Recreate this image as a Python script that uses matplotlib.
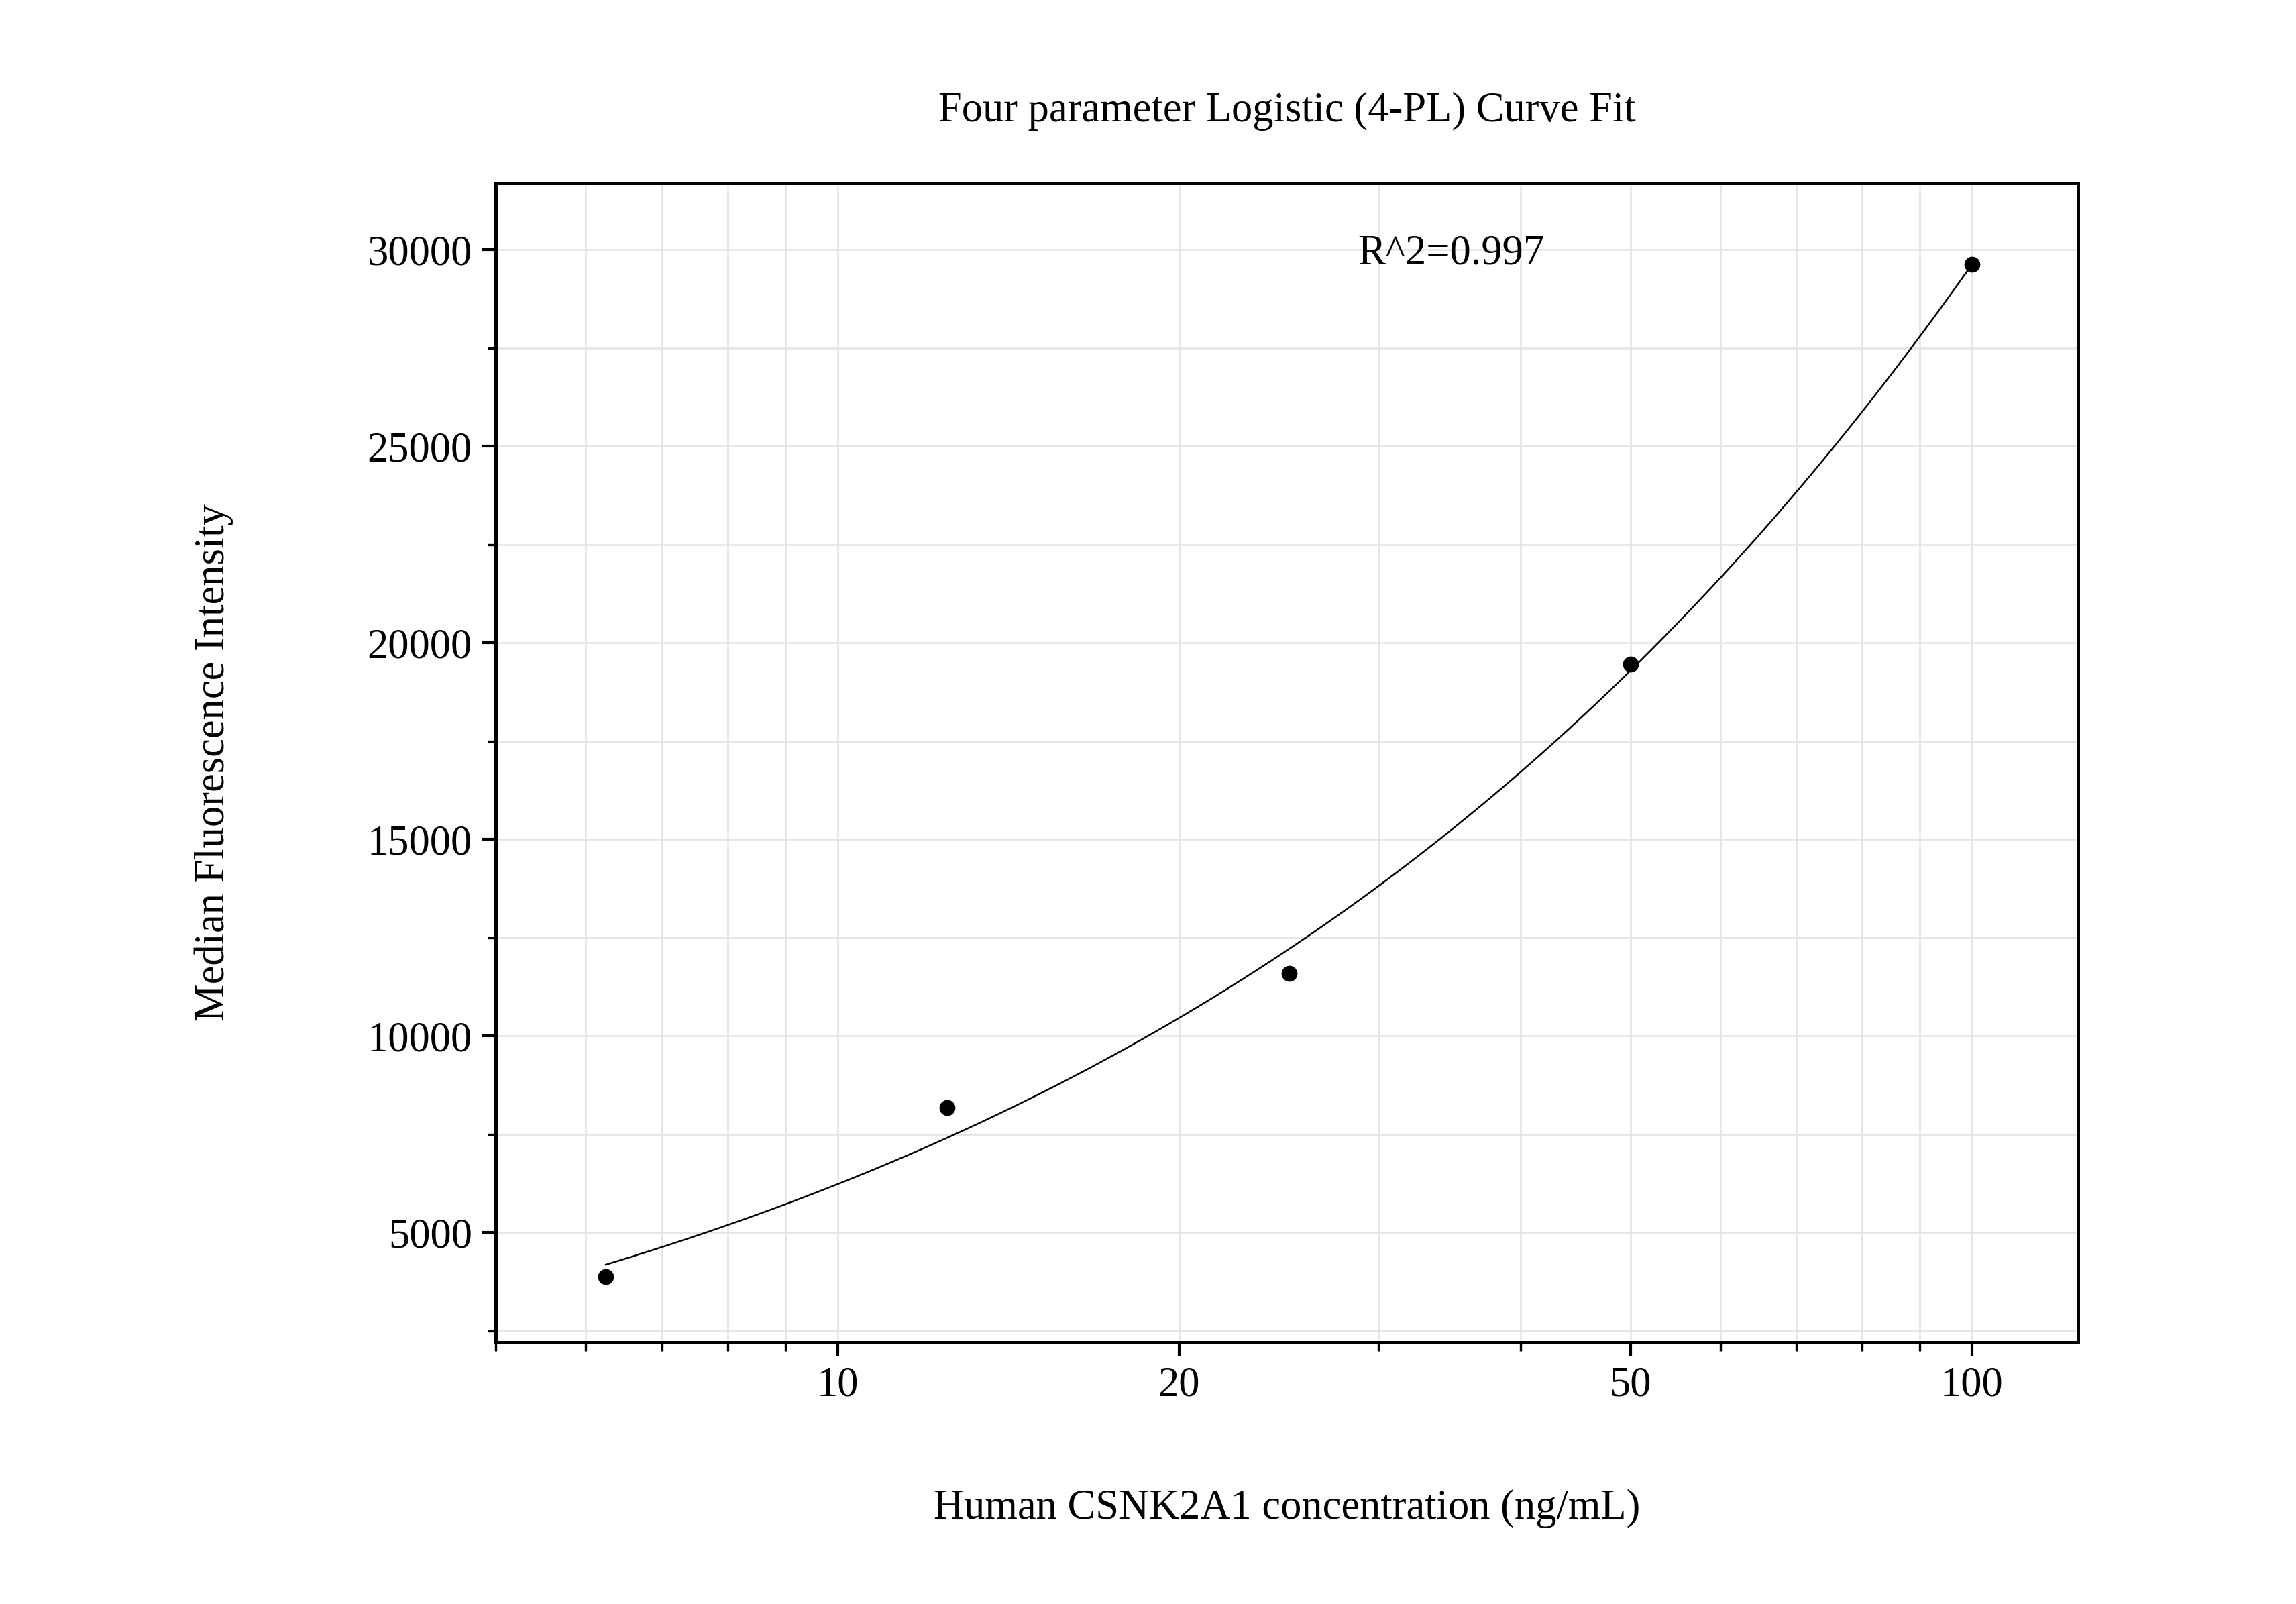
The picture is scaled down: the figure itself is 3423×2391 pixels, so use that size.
import numpy as np
import matplotlib
matplotlib.use("Agg")
import matplotlib.pyplot as plt
from matplotlib.ticker import MultipleLocator, LogLocator, FixedLocator, NullFormatter

conc = [6.25, 12.5, 25, 50, 100]
mfi = [3880, 8170, 11590, 19450, 29630]
xticks = [10, 20, 50, 100]
xlabels = ["10", "20", "50", "100"]
yticks = [5000, 10000, 15000, 20000, 25000, 30000]

x = np.array(conc, float); y = np.array(mfi, float)
best = None
for b in np.linspace(0.3, 3, 120):
    for c in np.logspace(0, 4, 200):
        g = 1 / (1 + (x / c) ** b)
        A = np.vstack([g, 1 - g]).T
        p, *_ = np.linalg.lstsq(A, y, rcond=None)
        r = np.sum((A @ p - y) ** 2)
        if best is None or r < best[0]:
            best = (r, b, c, p)
_, b, c, (a, d) = best
xs = np.logspace(np.log10(6.25), 2, 300)
ys = d + (a - d) / (1 + (xs / c) ** b)

plt.rcParams["font.family"] = "Liberation Serif"
fig = plt.figure(figsize=(3423/300, 2391/300), dpi=300)
ax = fig.add_axes([0.216, 0.163, 0.689, 0.723])
ax.set_xscale("log")
ax.set_xlim(5.0, 124)
ax.set_ylim(2200, 31700)
ax.plot(xs, ys, color="black", lw=0.6)
ax.scatter(conc, mfi, s=22, color="black", zorder=3)
ax.xaxis.set_major_locator(FixedLocator(xticks))
ax.set_xticklabels(xlabels)
ax.xaxis.set_minor_locator(LogLocator(subs=np.arange(2, 10)))
ax.xaxis.set_minor_formatter(NullFormatter())
ax.set_yticks(yticks)
ax.yaxis.set_minor_locator(MultipleLocator(2500))
ax.grid(True, which="both", color="#e3e3e3", lw=0.6)
ax.set_axisbelow(True)
for s in ax.spines.values():
    s.set_linewidth(1.2)
ax.tick_params(which="major", direction="out", length=5, width=1.0, labelsize=15)
ax.tick_params(which="minor", direction="out", length=3, width=0.8)
ax.set_xlabel("Human CSNK2A1 concentration (ng/mL)", fontsize=15, labelpad=30)
ax.set_ylabel("Median Fluorescence Intensity", fontsize=15, labelpad=48)
ax.set_title("Four parameter Logistic (4-PL) Curve Fit", fontsize=15, pad=22)
ax.text(0.545, 0.93, "R^2=0.997", transform=ax.transAxes, fontsize=15)
fig.savefig("out.png", dpi=300)
